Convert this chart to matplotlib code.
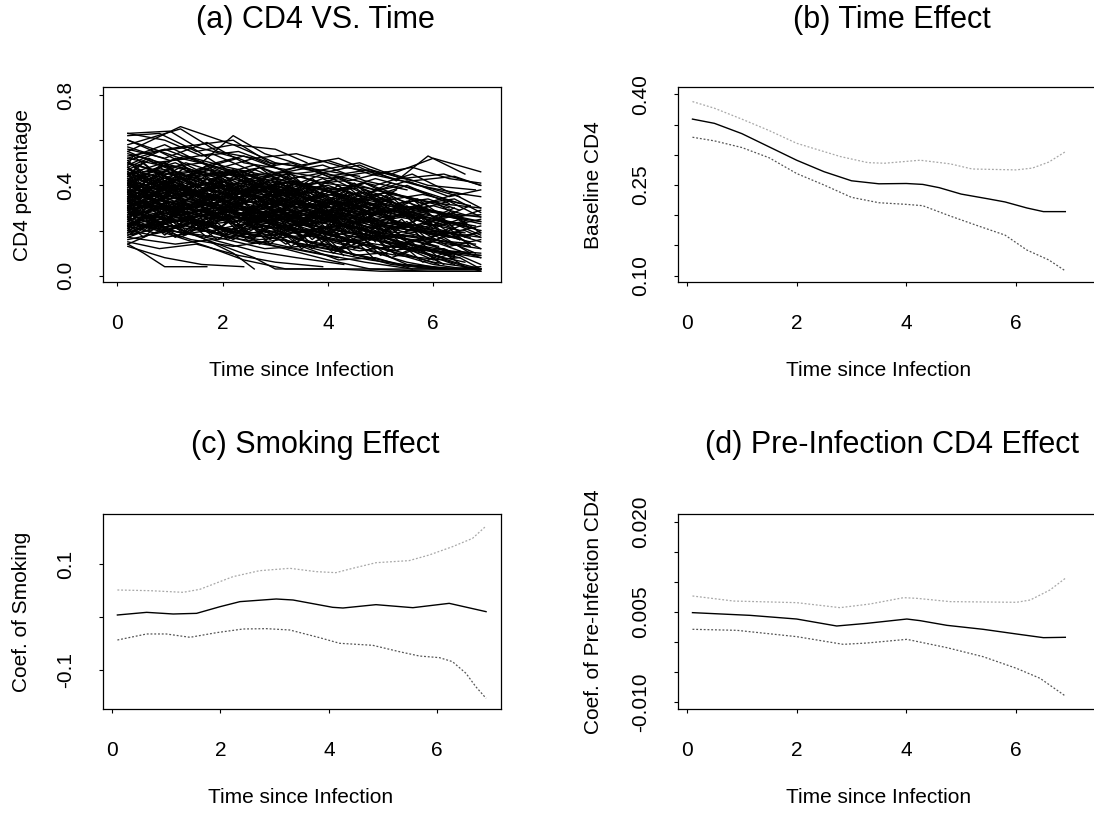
import numpy as np
import matplotlib
matplotlib.use("Agg")
import matplotlib.pyplot as plt

plt.rcParams['font.family'] = ['Liberation Sans', 'DejaVu Sans']

# (a) CD4 trajectories: one list of (time, cd4) visits per subject
subjects = [
    [(0.2,.62),(0.8,.63),(1.5,.55),(2.2,.58),(3.0,.50),(3.8,.47),(4.6,.44)],
    [(0.2,.58),(1.2,.65),(1.9,.55),(2.6,.52),(3.4,.54),(4.3,.48),(5.2,.45),(6.0,.52),(6.9,.46)],
    [(0.2,.55),(0.7,.50),(1.4,.52),(2.0,.47),(2.7,.43),(3.5,.40),(4.2,.38)],
    [(0.2,.52),(1.0,.48),(1.6,.50),(2.4,.44),(3.1,.46),(3.9,.41),(4.7,.39),(5.5,.35),(6.3,.30)],
    [(0.2,.50),(0.9,.45),(1.7,.47),(2.3,.41),(3.2,.38),(4.0,.33),(4.9,.30),(5.8,.26),(6.8,.22)],
    [(0.2,.48),(0.6,.52),(1.3,.44),(2.1,.46),(2.9,.40),(3.6,.37)],
    [(0.2,.47),(1.1,.42),(1.8,.45),(2.5,.38),(3.3,.36),(4.1,.32),(4.8,.28),(5.6,.25)],
    [(0.2,.46),(0.8,.40),(1.5,.43),(2.2,.37),(3.0,.39),(3.7,.33),(4.5,.31),(5.3,.24),(6.2,.20),(6.9,.15)],
    [(0.2,.45),(0.9,.47),(1.6,.39),(2.4,.41),(3.1,.34),(3.9,.30)],
    [(0.2,.44),(1.0,.38),(1.9,.41),(2.7,.35),(3.5,.31),(4.4,.27),(5.2,.22),(6.0,.18),(6.8,.10)],
    [(0.2,.43),(0.7,.46),(1.4,.40),(2.0,.36),(2.8,.38),(3.6,.32),(4.3,.29),(5.0,.27)],
    [(0.2,.42),(1.2,.36),(2.0,.39),(2.9,.33),(3.7,.29),(4.6,.25),(5.5,.19),(6.4,.14)],
    [(0.2,.41),(0.6,.44),(1.3,.37),(2.1,.40),(2.9,.35),(3.8,.37),(4.6,.33),(5.4,.30),(6.3,.27),(6.9,.24)],
    [(0.2,.40),(0.9,.35),(1.8,.38),(2.6,.32),(3.4,.28),(4.2,.25)],
    [(0.2,.39),(1.0,.42),(1.7,.36),(2.5,.30),(3.2,.33),(4.1,.28),(4.9,.24),(5.8,.21),(6.7,.17)],
    [(0.2,.38),(0.8,.33),(1.5,.36),(2.3,.31),(3.0,.27),(3.8,.30),(4.7,.24),(5.6,.20)],
    [(0.2,.37),(1.1,.40),(1.9,.34),(2.8,.36),(3.6,.31),(4.5,.33),(5.3,.29),(6.1,.26),(6.9,.27)],
    [(0.2,.36),(0.7,.31),(1.4,.34),(2.2,.28),(3.1,.25),(3.9,.20),(4.8,.16),(5.7,.12),(6.5,.08)],
    [(0.2,.35),(1.0,.37),(1.8,.31),(2.7,.33),(3.5,.27),(4.3,.24),(5.1,.20)],
    [(0.2,.34),(0.9,.30),(1.6,.32),(2.4,.27),(3.3,.29),(4.2,.23),(5.0,.19),(5.9,.16),(6.8,.14)],
    [(0.2,.33),(0.6,.36),(1.3,.30),(2.0,.33),(2.8,.28),(3.7,.24),(4.5,.21)],
    [(0.2,.32),(1.2,.28),(2.1,.31),(3.0,.26),(3.8,.22),(4.7,.18),(5.5,.13),(6.4,.06),(6.9,.03)],
    [(0.2,.31),(0.8,.34),(1.5,.29),(2.3,.31),(3.2,.25),(4.0,.27),(4.9,.22),(5.7,.20),(6.6,.19)],
    [(0.2,.30),(1.0,.26),(1.7,.29),(2.6,.24),(3.4,.21),(4.3,.17)],
    [(0.2,.29),(0.7,.32),(1.5,.27),(2.2,.24),(3.0,.27),(3.9,.21),(4.8,.18),(5.6,.14),(6.5,.10),(6.9,.09)],
    [(0.2,.28),(1.1,.25),(1.9,.28),(2.8,.22),(3.6,.19),(4.4,.15),(5.3,.11),(6.1,.05)],
    [(0.2,.27),(0.9,.30),(1.6,.25),(2.5,.27),(3.3,.22),(4.1,.24),(5.0,.19)],
    [(0.2,.26),(0.6,.22),(1.4,.25),(2.1,.20),(2.9,.17),(3.7,.13),(4.6,.09),(5.4,.05),(6.2,.03),(6.9,.03)],
    [(0.2,.25),(1.0,.28),(1.8,.23),(2.6,.25),(3.5,.20),(4.3,.22),(5.2,.17),(6.0,.15),(6.9,.12)],
    [(0.2,.24),(0.8,.21),(1.5,.24),(2.3,.19),(3.1,.16),(4.0,.12),(4.8,.08)],
    [(0.2,.23),(1.2,.26),(2.0,.21),(2.9,.18),(3.7,.20),(4.6,.15),(5.5,.12),(6.4,.10)],
    [(0.2,.22),(0.7,.19),(1.3,.22),(2.1,.17),(3.0,.14),(3.8,.10),(4.7,.06),(5.6,.03)],
    [(0.2,.21),(1.0,.24),(1.9,.19),(2.7,.16),(3.6,.18),(4.4,.13),(5.3,.09),(6.2,.07),(6.9,.02)],
    [(0.2,.20),(0.9,.17),(1.7,.20),(2.5,.15),(3.3,.12),(4.2,.08)],
    [(0.2,.19),(0.6,.22),(1.4,.16),(2.2,.13),(3.1,.16),(3.9,.11),(4.8,.07),(5.7,.04),(6.6,.03)],
    [(0.2,.17),(1.1,.14),(1.8,.16),(2.6,.11),(3.4,.08),(4.3,.05)],
    [(0.2,.15),(0.8,.12),(1.5,.14),(2.3,.09),(3.0,.06),(3.9,.04)],
    [(0.2,.13),(0.9,.08),(1.6,.05),(2.4,.04)],
    [(0.2,.14),(0.5,.10),(0.9,.04),(1.7,.04)],
    [(0.2,.56),(0.9,.52),(1.7,.59),(2.4,.50),(3.2,.47),(4.0,.51),(4.8,.45),(5.6,.41),(6.5,.35)],
    [(0.2,.53),(1.2,.57),(2.2,.60),(2.9,.50),(3.6,.48),(4.4,.42),(5.1,.46),(5.9,.40),(6.8,.38)],
    [(0.2,.49),(0.8,.55),(1.5,.47),(2.3,.52),(3.0,.45),(3.9,.49),(4.7,.42),(5.5,.38)],
    [(0.2,.45),(1.3,.53),(2.1,.48),(2.9,.44),(3.7,.46),(4.6,.50),(5.4,.43),(6.2,.45),(6.9,.40)],
    [(0.2,.41),(0.9,.49),(1.8,.44),(2.6,.47),(3.4,.40),(4.3,.42),(5.2,.36),(6.1,.32),(6.9,.30)],
    [(0.2,.37),(1.1,.45),(1.9,.42),(2.7,.38),(3.5,.41),(4.4,.35),(5.3,.31),(6.2,.28)],
    [(0.2,.33),(0.7,.40),(1.6,.37),(2.4,.42),(3.2,.36),(4.1,.39),(5.0,.33),(5.8,.36),(6.7,.31)],
    [(0.2,.29),(1.0,.35),(1.8,.32),(2.6,.36),(3.4,.30),(4.2,.33),(5.1,.28),(5.9,.25),(6.8,.21)],
    [(0.2,.26),(0.9,.31),(1.7,.28),(2.5,.33),(3.3,.27),(4.1,.29),(4.9,.24),(5.7,.27),(6.6,.22)],
    [(0.2,.23),(1.1,.29),(2.0,.26),(2.8,.30),(3.6,.25),(4.5,.27),(5.4,.22),(6.3,.18)],
    [(0.2,.20),(0.8,.25),(1.6,.23),(2.4,.27),(3.2,.22),(4.0,.24),(4.9,.19),(5.8,.17),(6.7,.13)],
    [(0.2,.18),(1.0,.22),(1.9,.19),(2.7,.23),(3.5,.18),(4.4,.15),(5.2,.18),(6.1,.13)],
    [(0.2,.36),(0.5,.30),(1.1,.33),(1.7,.28),(2.3,.31),(2.9,.26),(3.5,.29),(4.1,.24),(4.7,.21),(5.3,.24),(5.9,.19),(6.5,.17)],
    [(0.2,.39),(0.5,.44),(1.1,.38),(1.7,.41),(2.3,.36),(2.9,.39),(3.5,.34),(4.1,.36),(4.7,.31),(5.3,.27),(5.9,.29),(6.5,.25)],
    [(0.2,.42),(0.5,.37),(1.1,.40),(1.7,.35),(2.3,.38),(2.9,.32),(3.5,.35),(4.1,.30),(4.7,.27),(5.3,.29),(5.9,.23),(6.5,.20),(6.9,.22)],
    [(0.2,.32),(0.5,.35),(1.1,.29),(1.7,.32),(2.3,.27),(2.9,.30),(3.5,.25),(4.1,.27),(4.7,.22),(5.3,.19),(5.9,.21),(6.5,.16)],
    [(0.2,.28),(0.5,.24),(1.1,.28),(1.7,.23),(2.3,.26),(2.9,.21),(3.5,.23),(4.1,.18),(4.7,.20),(5.3,.15),(5.9,.12),(6.5,.09)],
    [(0.2,.46),(0.5,.42),(1.1,.46),(1.7,.40),(2.3,.43),(2.9,.37),(3.5,.40),(4.1,.34),(4.7,.37),(5.3,.32),(5.9,.34),(6.5,.29)],
    [(0.2,.50),(0.5,.46),(1.1,.50),(1.7,.44),(2.3,.47),(2.9,.41),(3.5,.44),(4.1,.38),(4.7,.41),(5.3,.36),(5.9,.31)],
    [(0.2,.24),(0.5,.28),(1.1,.24),(1.7,.27),(2.3,.22),(2.9,.25),(3.5,.20),(4.1,.22),(4.7,.17),(5.3,.14),(5.9,.16),(6.5,.11),(6.9,.08)],
    [(0.2,.35),(0.4,.40),(1.0,.34),(1.6,.37),(2.2,.32),(2.8,.35),(3.4,.30),(4.0,.32),(4.6,.27),(5.2,.29),(5.8,.24)],
    [(0.2,.31),(0.4,.27),(1.0,.31),(1.6,.26),(2.2,.29),(2.8,.24),(3.4,.27),(4.0,.21),(4.6,.24),(5.2,.19)],
    [(0.2,.44),(0.4,.49),(1.0,.43),(1.6,.46),(2.2,.40),(2.8,.43),(3.4,.38),(4.0,.40),(4.6,.35),(5.2,.37),(5.8,.32),(6.4,.34),(6.9,.28)],
    [(0.2,.27),(0.4,.31),(1.0,.26),(1.6,.29),(2.2,.24),(2.8,.27),(3.4,.22),(4.0,.25),(4.6,.19),(5.2,.16),(5.8,.10),(6.4,.05)],
    [(0.2,.38),(0.4,.34),(1.0,.39),(1.6,.33),(2.2,.36),(2.8,.30),(3.4,.33),(4.0,.28),(4.6,.31),(5.2,.26),(5.8,.28),(6.4,.23),(6.9,.20)],
    [(0.2,.48),(0.4,.43),(1.0,.47),(1.6,.42),(2.2,.45),(2.8,.39),(3.4,.42),(4.0,.37),(4.6,.39),(5.2,.34)],
    [(0.2,.21),(0.4,.25),(1.0,.21),(1.6,.24),(2.2,.19),(2.8,.22),(3.4,.17),(4.0,.19),(4.6,.14),(5.2,.11),(5.8,.13),(6.4,.08)],
    [(0.2,.34),(0.6,.37),(1.2,.32),(1.8,.35),(2.4,.30),(3.0,.32),(3.6,.27),(4.2,.30),(4.8,.25),(5.4,.27),(6.0,.22),(6.6,.24)],
    [(0.2,.40),(0.6,.36),(1.2,.40),(1.8,.34),(2.4,.37),(3.0,.31),(3.6,.34),(4.2,.29),(4.8,.32),(5.4,.26),(6.0,.29),(6.6,.25)],
    [(0.2,.30),(0.6,.34),(1.2,.29),(1.8,.32),(2.4,.27),(3.0,.29),(3.6,.24),(4.2,.26),(4.8,.21),(5.4,.23),(6.0,.18),(6.6,.20),(6.9,.17)],
    [(0.2,.25),(0.6,.21),(1.2,.25),(1.8,.20),(2.4,.23),(3.0,.18),(3.6,.20),(4.2,.15),(4.8,.17),(5.4,.12),(6.0,.09),(6.6,.06)],
    [(0.2,.43),(0.6,.39),(1.2,.43),(1.8,.37),(2.4,.40),(3.0,.35),(3.6,.37),(4.2,.32),(4.8,.34),(5.4,.29),(6.0,.31),(6.6,.27)],
    [(0.2,.36),(0.6,.41),(1.2,.35),(1.8,.38),(2.4,.33),(3.0,.36),(3.6,.30),(4.2,.33),(4.8,.28),(5.4,.30),(6.0,.25),(6.6,.22)],
    [(0.2,.47),(0.6,.51),(1.2,.45),(1.8,.48),(2.4,.42),(3.0,.45),(3.6,.40),(4.2,.43),(4.8,.37),(5.4,.40),(6.0,.35)],
    [(0.2,.19),(0.6,.23),(1.2,.19),(1.8,.22),(2.4,.17),(3.0,.20),(3.6,.15),(4.2,.12),(4.8,.14),(5.4,.09),(6.0,.05),(6.6,.03)],
    [(0.2,.60),(0.7,.55),(1.4,.57),(2.0,.48),(2.6,.52),(3.3,.45)],
    [(0.2,.57),(1.0,.51),(1.8,.54),(2.5,.47),(3.3,.50),(4.0,.44),(4.8,.47),(5.6,.42),(6.4,.44),(6.9,.40)],
    [(0.2,.51),(0.9,.56),(1.7,.49),(2.4,.53),(3.2,.46),(4.0,.43),(4.8,.46),(5.7,.40),(6.6,.36)],
    [(0.3,.39),(0.9,.42),(1.5,.37),(2.1,.40),(2.7,.34),(3.3,.37),(3.9,.32),(4.5,.34),(5.1,.29),(5.7,.31),(6.3,.26),(6.9,.23)],
    [(0.3,.33),(0.9,.29),(1.5,.33),(2.1,.28),(2.7,.31),(3.3,.26),(3.9,.28),(4.5,.23),(5.1,.25),(5.7,.20),(6.3,.17),(6.9,.19)],
    [(0.3,.27),(0.9,.31),(1.5,.26),(2.1,.29),(2.7,.24),(3.3,.26),(3.9,.21),(4.5,.24),(5.1,.18),(5.7,.15),(6.3,.11),(6.9,.10)],
    [(0.2,.29),(1.0,.22),(1.8,.15),(2.6,.08),(3.0,.03),(4.2,.03),(5.0,.02),(6.0,.02),(6.9,.02)],
    [(0.2,.24),(0.9,.19),(1.7,.13),(2.4,.07),(3.2,.03),(4.5,.03),(5.5,.03),(6.9,.03)],
    [(0.2,.33),(1.0,.27),(2.0,.20),(3.0,.13),(4.0,.07),(4.8,.03),(5.9,.02),(6.9,.02)],
    [(0.2,.38),(1.1,.31),(2.2,.25),(3.3,.17),(4.4,.10),(5.2,.05),(6.0,.03),(6.9,.03)],
    [(0.2,.30),(0.8,.24),(1.5,.18),(2.2,.10),(2.6,.03)],
    [(0.2,.41),(1.2,.34),(2.3,.27),(3.4,.20),(4.5,.13),(5.5,.06),(6.2,.03),(6.9,.04)],
    [(0.2,.45),(1.0,.40),(2.0,.32),(3.0,.25),(4.0,.18),(5.0,.12),(6.0,.06),(6.9,.03)],
    [(0.2,.50),(1.3,.43),(2.5,.36),(3.6,.28),(4.7,.20),(5.8,.12),(6.9,.08)],
    [(0.2,.54),(1.0,.49),(2.0,.44),(3.0,.38),(4.0,.32),(5.0,.26),(6.0,.20),(6.9,.17)],
    [(0.2,.60),(1.2,.52),(2.3,.46),(3.4,.41),(4.5,.34),(5.6,.27),(6.5,.20)],
    [(0.2,.63),(0.9,.60),(1.6,.53),(2.3,.55),(3.0,.49)],
    [(0.2,.52),(0.9,.58),(1.6,.50),(2.2,.62),(2.8,.54),(3.5,.49),(4.2,.52),(4.9,.45),(5.6,.48),(6.3,.43),(6.9,.41)],
    [(0.2,.39),(0.8,.45),(1.3,.50),(2.0,.45),(2.6,.49),(3.3,.43),(4.0,.46),(4.6,.49),(5.3,.42),(5.9,.53),(6.6,.45)],
    [(0.2,.35),(1.0,.42),(1.8,.47),(2.6,.42),(3.4,.48),(4.2,.44),(4.9,.40),(5.6,.45),(6.3,.37),(6.9,.35)],
    [(0.2,.31),(0.9,.37),(1.7,.41),(2.5,.38),(3.3,.42),(4.1,.37),(4.9,.43),(5.7,.38),(6.5,.32)],
    [(0.2,.22),(0.8,.28),(1.6,.33),(2.4,.29),(3.2,.34),(4.0,.30),(4.8,.35),(5.6,.30),(6.4,.36),(6.9,.30)],
    [(0.2,.17),(0.9,.23),(1.8,.28),(2.7,.24),(3.6,.29),(4.5,.25),(5.4,.21),(6.3,.26),(6.9,.24)],
    [(0.2,.14),(0.7,.19),(1.5,.24),(2.3,.20),(3.1,.25),(4.0,.21),(4.9,.16),(5.8,.20),(6.7,.15)],
    [(0.2,.16),(1.0,.20),(1.9,.16),(2.8,.20),(3.7,.15),(4.6,.11),(5.5,.14),(6.4,.09)],
    [(0.2,.26),(0.7,.33),(1.4,.38),(2.2,.34),(3.0,.40),(3.7,.35),(4.5,.30),(5.3,.34),(6.1,.28),(6.9,.26)],
    [(0.2,.34),(0.8,.43),(1.5,.35),(2.3,.45),(3.1,.36),(3.9,.43),(4.7,.34),(5.5,.40),(6.3,.32)],
    [(0.2,.43),(0.8,.34),(1.5,.42),(2.3,.33),(3.1,.41),(3.9,.31),(4.7,.38),(5.5,.28),(6.3,.33),(6.9,.26)],
    [(0.2,.29),(0.8,.38),(1.5,.30),(2.3,.39),(3.1,.29),(3.9,.36),(4.7,.27),(5.5,.33),(6.3,.22),(6.9,.25)],
    [(0.2,.37),(0.8,.28),(1.5,.36),(2.3,.27),(3.1,.34),(3.9,.25),(4.7,.31),(5.5,.20),(6.3,.24),(6.9,.18)],
    [(0.2,.48),(0.8,.39),(1.5,.46),(2.3,.37),(3.1,.44),(3.9,.35),(4.7,.41),(5.5,.32)],
    [(0.2,.22),(0.8,.31),(1.5,.23),(2.3,.31),(3.1,.21),(3.9,.28),(4.7,.18),(5.5,.23),(6.3,.13),(6.9,.16)],
    [(0.2,.40),(0.8,.48),(1.5,.39),(2.3,.47),(3.1,.38),(3.9,.45),(4.7,.36),(5.5,.42),(6.3,.35),(6.9,.38)],
    [(0.2,.31),(0.8,.23),(1.5,.32),(2.3,.22),(3.1,.29),(3.9,.19),(4.7,.25),(5.5,.15),(6.3,.19),(6.9,.12)],
    [(0.2,.55),(1.2,.66),(2.2,.58),(3.0,.56),(3.6,.50)],
    [(0.2,.63),(1.0,.64),(1.5,.57),(2.3,.52)],
    # frequently measured subjects (dense core of the cloud)
    [(0.2,.30),(0.5,.38),(0.9,.29),(1.3,.37),(1.7,.28),(2.1,.36),(2.5,.27),(2.9,.34),(3.3,.25),(3.7,.32),(4.1,.23)],
    [(0.2,.40),(0.5,.32),(0.9,.41),(1.3,.33),(1.7,.40),(2.1,.31),(2.5,.38),(2.9,.30),(3.3,.36),(3.7,.28),(4.1,.34),(4.5,.26)],
    [(0.2,.25),(0.5,.33),(0.9,.24),(1.3,.32),(1.7,.23),(2.1,.31),(2.5,.22),(2.9,.29),(3.3,.20),(3.7,.27),(4.1,.18),(4.5,.24),(4.9,.15)],
    [(0.2,.45),(0.5,.36),(0.9,.44),(1.3,.35),(1.7,.43),(2.1,.34),(2.5,.42),(2.9,.33),(3.3,.40),(3.7,.31)],
    [(0.2,.35),(0.4,.27),(0.8,.36),(1.2,.26),(1.6,.35),(2.0,.25),(2.4,.33),(2.8,.24),(3.2,.31),(3.6,.22),(4.0,.29),(4.4,.20),(4.8,.26)],
    [(0.2,.20),(0.4,.29),(0.8,.21),(1.2,.30),(1.6,.20),(2.0,.28),(2.4,.19),(2.8,.26),(3.2,.17),(3.6,.24),(4.0,.15)],
    [(0.2,.42),(0.4,.47),(0.8,.38),(1.2,.46),(1.6,.37),(2.0,.45),(2.4,.36),(2.8,.43),(3.2,.35),(3.6,.41),(4.0,.33),(4.4,.39),(4.8,.31),(5.2,.36)],
    [(0.2,.33),(0.6,.24),(1.0,.33),(1.4,.24),(1.8,.32),(2.2,.23),(2.6,.30),(3.0,.21),(3.4,.28),(3.8,.19),(4.2,.26),(4.6,.17),(5.0,.23),(5.4,.14)],
    [(0.2,.28),(0.6,.36),(1.0,.27),(1.4,.35),(1.8,.26),(2.2,.34),(2.6,.25),(3.0,.32),(3.4,.23),(3.8,.30),(4.2,.21),(4.6,.28),(5.0,.19),(5.4,.25),(5.8,.16)],
    [(0.2,.38),(0.6,.30),(1.0,.38),(1.4,.29),(1.8,.37),(2.2,.28),(2.6,.36),(3.0,.27),(3.4,.34),(3.8,.25),(4.2,.32),(4.6,.23),(5.0,.29),(5.4,.21),(5.8,.26),(6.2,.18)],
    [(0.2,.23),(0.5,.17),(0.9,.25),(1.3,.18),(1.7,.24),(2.1,.16),(2.5,.23),(2.9,.14),(3.3,.21),(3.7,.12),(4.1,.18),(4.5,.09)],
    [(0.2,.48),(0.6,.41),(1.0,.48),(1.4,.40),(1.8,.46),(2.2,.38),(2.6,.44),(3.0,.36),(3.4,.42),(3.8,.34),(4.2,.40),(4.6,.32)],
    [(0.2,.36),(0.3,.44),(0.7,.35),(1.1,.43),(1.5,.34),(1.9,.42),(2.3,.33),(2.7,.40),(3.1,.31),(3.5,.38),(3.9,.29),(4.3,.36),(4.7,.27)],
    [(0.2,.31),(0.3,.22),(0.7,.31),(1.1,.21),(1.5,.30),(1.9,.20),(2.3,.28),(2.7,.19),(3.1,.27),(3.5,.17),(3.9,.25),(4.3,.15),(4.7,.22),(5.1,.12)],
    [(0.2,.27),(0.7,.34),(1.1,.26),(1.5,.33),(1.9,.25),(2.3,.32),(2.7,.24),(3.1,.30),(3.5,.22),(3.9,.28),(4.3,.20),(4.7,.26),(5.1,.17),(5.5,.23),(5.9,.14),(6.3,.19)],
    [(0.2,.43),(0.7,.36),(1.1,.44),(1.5,.35),(1.9,.43),(2.3,.34),(2.7,.41),(3.1,.32),(3.5,.39),(3.9,.30),(4.3,.37),(4.7,.28),(5.1,.34),(5.5,.26)],
    [(0.2,.19),(0.5,.26),(0.9,.18),(1.3,.25),(1.7,.17),(2.1,.24),(2.5,.15),(2.9,.22),(3.3,.13),(3.7,.19),(4.1,.10),(4.5,.16),(4.9,.07)],
    [(0.2,.51),(0.5,.44),(0.9,.50),(1.3,.42),(1.7,.49),(2.1,.41),(2.5,.47),(2.9,.39),(3.3,.45),(3.7,.37)],
    [(0.2,.34),(0.5,.41),(0.9,.32),(1.3,.40),(1.7,.31),(2.1,.39),(2.5,.30),(2.9,.37),(3.3,.28),(3.7,.35),(4.1,.27),(4.5,.33),(4.9,.24),(5.3,.30),(5.7,.22),(6.1,.27),(6.5,.19)],
    [(0.2,.29),(0.5,.21),(0.9,.29),(1.3,.20),(1.7,.28),(2.1,.19),(2.5,.27),(2.9,.18),(3.3,.25),(3.7,.16),(4.1,.23),(4.5,.14),(4.9,.20),(5.3,.11),(5.7,.16),(6.1,.08),(6.5,.11)],
    [(0.2,.39),(0.4,.45),(0.8,.37),(1.2,.44),(1.6,.36),(2.0,.43),(2.4,.35),(2.8,.41),(3.2,.33),(3.6,.40),(4.0,.31),(4.4,.37),(4.8,.29),(5.2,.35),(5.6,.27)],
    [(0.2,.24),(0.4,.31),(0.8,.23),(1.2,.30),(1.6,.22),(2.0,.29),(2.4,.21),(2.8,.28),(3.2,.20),(3.6,.26),(4.0,.18),(4.4,.24),(4.8,.16),(5.2,.21),(5.6,.13)],
    [(0.2,.46),(0.4,.39),(0.8,.46),(1.2,.38),(1.6,.45),(2.0,.37),(2.4,.43),(2.8,.35),(3.2,.41),(3.6,.33),(4.0,.39),(4.4,.31),(4.8,.36),(5.2,.29),(5.6,.34),(6.0,.26),(6.4,.30)],
    [(0.2,.32),(0.6,.39),(1.0,.31),(1.4,.38),(1.8,.30),(2.2,.37),(2.6,.29),(3.0,.35),(3.4,.27),(3.8,.33),(4.2,.25),(4.6,.31),(5.0,.22),(5.4,.28),(5.8,.20),(6.2,.25),(6.6,.17),(6.9,.20)],
    [(0.2,.21),(0.6,.27),(1.0,.20),(1.4,.26),(1.8,.19),(2.2,.25),(2.6,.17),(3.0,.23),(3.4,.15),(3.8,.21),(4.2,.12),(4.6,.18),(5.0,.09),(5.4,.14),(5.8,.06),(6.2,.10),(6.6,.04)],
    [(0.2,.37),(0.6,.31),(1.0,.37),(1.4,.30),(1.8,.36),(2.2,.29),(2.6,.35),(3.0,.28),(3.4,.33),(3.8,.26),(4.2,.31),(4.6,.24),(5.0,.29),(5.4,.22),(5.8,.26),(6.2,.19),(6.6,.23)],
    [(0.2,.44),(0.5,.50),(0.9,.42),(1.3,.48),(1.7,.40),(2.1,.47),(2.5,.39),(2.9,.45),(3.3,.37),(3.7,.43),(4.1,.36),(4.5,.41),(4.9,.33),(5.3,.38)],
    [(0.2,.26),(0.5,.20),(0.9,.27),(1.3,.19),(1.7,.26),(2.1,.18),(2.5,.24),(2.9,.16),(3.3,.22),(3.7,.14),(4.1,.20),(4.5,.12),(4.9,.17),(5.3,.09),(5.7,.13),(6.1,.06)],
    [(0.2,.41),(0.3,.35),(0.7,.42),(1.1,.34),(1.5,.41),(1.9,.33),(2.3,.40),(2.7,.32),(3.1,.38),(3.5,.30),(3.9,.36),(4.3,.28),(4.7,.34),(5.1,.26),(5.5,.31),(5.9,.23),(6.3,.28),(6.7,.21)],
    [(0.2,.33),(0.3,.28),(0.7,.34),(1.1,.27),(1.5,.33),(1.9,.26),(2.3,.32),(2.7,.25),(3.1,.30),(3.5,.23),(3.9,.29),(4.3,.21),(4.7,.27),(5.1,.19),(5.5,.24),(5.9,.16),(6.3,.21),(6.7,.13)],
    [(0.2,.49),(0.3,.53),(0.7,.46),(1.1,.52),(1.5,.44),(1.9,.50),(2.3,.43),(2.7,.48),(3.1,.41)],
    [(0.2,.22),(0.3,.18),(0.7,.24),(1.1,.17),(1.5,.23),(1.9,.16),(2.3,.22),(2.7,.14),(3.1,.20),(3.5,.12),(3.9,.17),(4.3,.09)],
    [(0.2,.37),(0.7,.44),(1.2,.36),(1.7,.43),(2.2,.35),(2.7,.41),(3.2,.33),(3.7,.39),(4.2,.31),(4.7,.37),(5.2,.29),(5.7,.34),(6.2,.26),(6.7,.31)],
    [(0.2,.28),(0.7,.22),(1.2,.29),(1.7,.21),(2.2,.28),(2.7,.20),(3.2,.26),(3.7,.18),(4.2,.24),(4.7,.16),(5.2,.21),(5.7,.13),(6.2,.17),(6.7,.10)],
    [(0.2,.40),(0.7,.34),(1.2,.41),(1.7,.33),(2.2,.39),(2.7,.31),(3.2,.38),(3.7,.30),(4.2,.36),(4.7,.28),(5.2,.33),(5.7,.25)],
    [(0.2,.18),(0.7,.24),(1.2,.17),(1.7,.23),(2.2,.16),(2.7,.22),(3.2,.14),(3.7,.19),(4.2,.11),(4.7,.16),(5.2,.08),(5.7,.12),(6.2,.05)],
    [(0.2,.47),(0.7,.42),(1.2,.48),(1.7,.41),(2.2,.47),(2.7,.40),(3.2,.45),(3.7,.38),(4.2,.44),(4.7,.36),(5.2,.41)],
    [(0.2,.30),(0.5,.35),(1.0,.29),(1.5,.36),(2.0,.30),(2.5,.35),(3.0,.28),(3.5,.33),(4.0,.26),(4.5,.31),(5.0,.24),(5.5,.28),(6.0,.21),(6.5,.25),(6.9,.19)],
    [(0.2,.35),(0.5,.29),(1.0,.36),(1.5,.28),(2.0,.34),(2.5,.27),(3.0,.33),(3.5,.25),(4.0,.31),(4.5,.23),(5.0,.28),(5.5,.20),(6.0,.24),(6.5,.16)],
    [(0.2,.43),(0.5,.37),(1.0,.43),(1.5,.36),(2.0,.42),(2.5,.35),(3.0,.41),(3.5,.33),(4.0,.38),(4.5,.31),(5.0,.36),(5.5,.29),(6.0,.33),(6.5,.26),(6.9,.29)],
    [(0.2,.27),(1.0,.25),(2.0,.21),(2.5,.17),(3.0,.18),(3.5,.13),(4.0,.14),(4.5,.09),(5.0,.10),(5.5,.05),(6.0,.04),(6.5,.03),(6.9,.03)],
    [(0.2,.32),(1.0,.30),(1.8,.25),(2.6,.26),(3.4,.19),(4.2,.20),(4.8,.12),(5.4,.13),(6.0,.07),(6.5,.08),(6.9,.03)],
    [(0.2,.36),(0.9,.33),(1.8,.29),(2.7,.30),(3.6,.22),(4.3,.17),(5.0,.18),(5.6,.11),(6.2,.12),(6.9,.05)],
    [(0.2,.23),(1.0,.20),(1.9,.17),(2.8,.12),(3.5,.13),(4.2,.07),(4.9,.08),(5.6,.03),(6.3,.03)],
    [(0.2,.40),(1.2,.37),(2.2,.33),(3.0,.29),(3.8,.24),(4.4,.25),(5.0,.17),(5.6,.18),(6.2,.11),(6.9,.09)],
]

# (b) time effect: baseline CD4 with pointwise band
t_b = [0.1, 0.5, 1.0, 1.5, 2.0, 2.5, 3.0, 3.5, 4.0, 4.3, 4.6, 5.0, 5.5, 5.8, 6.2, 6.5, 6.9]
base_b = [0.359, 0.352, 0.335, 0.313, 0.291, 0.272, 0.257, 0.252, 0.2525, 0.251, 0.2456, 0.235, 0.227, 0.222, 0.212, 0.206, 0.206]
t_bu = [0.1, 0.5, 1.0, 1.5, 2.0, 2.8, 3.3, 3.6, 4.25, 4.8, 5.2, 6.0, 6.3, 6.6, 6.9]
up_b = [0.388, 0.377, 0.359, 0.340, 0.319, 0.297, 0.287, 0.286, 0.291, 0.285, 0.2765, 0.275, 0.278, 0.288, 0.305]
t_bl = [0.1, 0.5, 1.0, 1.5, 2.0, 2.5, 3.0, 3.5, 4.0, 4.3, 4.8, 5.3, 5.8, 6.2, 6.6, 6.9]
lo_b = [0.329, 0.323, 0.312, 0.295, 0.269, 0.250, 0.2296, 0.2207, 0.218, 0.2158, 0.1987, 0.1827, 0.1672, 0.1424, 0.126, 0.108]

# (c) smoking coefficient
t_c = [0.1, 0.64, 1.13, 1.56, 1.99, 2.36, 3.03, 3.34, 4.07, 4.26, 4.87, 5.55, 6.22, 6.9]
coef_c = [0.0044, 0.0094, 0.0063, 0.0075, 0.020, 0.0296, 0.0346, 0.0327, 0.0189, 0.0176, 0.0239, 0.0182, 0.0264, 0.0107]
t_cu = [0.1, 0.7, 1.31, 1.62, 2.23, 2.72, 3.28, 3.77, 4.13, 4.44, 4.87, 5.48, 5.85, 6.28, 6.65, 6.9]
up_c = [0.0516, 0.0503, 0.0472, 0.0528, 0.0767, 0.088, 0.0925, 0.0862, 0.0843, 0.0925, 0.1031, 0.107, 0.1176, 0.1333, 0.149, 0.1723]
t_cl = [0.1, 0.64, 1.0, 1.44, 1.93, 2.42, 2.85, 3.28, 3.83, 4.2, 4.81, 5.3, 5.67, 6.04, 6.28, 6.53, 6.71, 6.9]
lo_c = [-0.0428, -0.0314, -0.0314, -0.0377, -0.0289, -0.022, -0.0214, -0.0239, -0.0384, -0.049, -0.0528, -0.0648, -0.073, -0.0761, -0.0836, -0.1057, -0.1308, -0.1528]

# (d) pre-infection CD4 coefficient
t_d = [0.1, 1.15, 2.0, 2.73, 3.28, 4.01, 4.25, 4.74, 5.4, 6.01, 6.5, 6.9]
coef_d = [0.00487, 0.00442, 0.00381, 0.00265, 0.00309, 0.00381, 0.00354, 0.00276, 0.0021, 0.00132, 0.00071, 0.00077]
t_du = [0.1, 0.85, 2.0, 2.79, 3.34, 3.95, 4.19, 4.8, 6.01, 6.26, 6.62, 6.9]
up_d = [0.00764, 0.0068, 0.00653, 0.0057, 0.00631, 0.00736, 0.00725, 0.0067, 0.00659, 0.00697, 0.00864, 0.01058]
t_dl = [0.1, 0.91, 2.0, 2.85, 3.28, 4.01, 4.74, 5.4, 6.01, 6.44, 6.9]
lo_d = [0.0021, 0.00193, 0.00088, -0.0004, -0.00018, 0.00043, -0.00095, -0.00245, -0.00439, -0.00605, -0.00899]

W, H = 1094, 813
fig = plt.figure(figsize=(W / 100, H / 100), dpi=100)


def px_axes(x0, x1, y0, y1):
    return fig.add_axes([x0 / W, 1 - y1 / H, (x1 - x0) / W, (y1 - y0) / H])


def style(ax, yticks, ylabels):
    ax.set_xticks([0, 2, 4, 6])
    ax.set_xticklabels(['0', '2', '4', '6'])
    ax.set_yticks(yticks)
    ax.set_yticklabels(ylabels, rotation=90, va='center')
    ax.tick_params(direction='out', length=3.1, width=0.8, labelsize=15, colors='black')
    ax.tick_params(axis='x', pad=20)
    ax.tick_params(axis='y', pad=17)
    for s in ax.spines.values():
        s.set_linewidth(0.9)


def band(ax, t, m, tu, u, tl, l):
    ax.plot(tu, u, color='#a8a8a8', lw=0.9, ls=(0, (1.5, 1.5)))
    ax.plot(tl, l, color='#555555', lw=0.9, ls=(0, (1.5, 1.5)))
    ax.plot(t, m, color='black', lw=1.0)


# (a)
ax = px_axes(103.3, 500.7, 87.3, 282.3)
for s in subjects:
    tt = [p[0] for p in s]
    yy = [p[1] for p in s]
    ax.plot(tt, yy, color='black', lw=1.0)
ax.set_xlim(-0.266, 7.28)
ax.set_ylim(-0.029, 0.834)
style(ax, [0, 0.2, 0.4, 0.6, 0.8], ['0.0', '', '0.4', '', '0.8'])

# (b)
ax = px_axes(678, 1106, 87.3, 282.3)
band(ax, t_b, base_b, t_bu, up_b, t_bl, lo_b)
ax.set_xlim(-0.164, (1106 - 687) / 54.83)
ax.set_ylim(0.0891, 0.4116)
style(ax, [0.10, 0.15, 0.20, 0.25, 0.30, 0.35, 0.40], ['0.10', '', '', '0.25', '', '', '0.40'])

# (c)
ax = px_axes(103.3, 500.7, 514, 709)
band(ax, t_c, coef_c, t_cu, up_c, t_cl, lo_c)
ax.set_xlim(-0.16, 7.17)
ax.set_ylim(-0.173, 0.195)
style(ax, [-0.1, 0.0, 0.1], ['-0.1', '', '0.1'])

# (d)
ax = px_axes(678, 1106, 514, 709)
band(ax, t_d, coef_d, t_du, up_d, t_dl, lo_d)
ax.set_xlim(-0.164, (1106 - 687) / 54.83)
ax.set_ylim(-0.01115, 0.02127)
style(ax, [-0.010, -0.005, 0.0, 0.005, 0.010, 0.015, 0.020],
      ['-0.010', '', '', '0.005', '', '', '0.020'])

# titles and axis labels placed like the R layout
titles = ['(a) CD4 VS. Time', '(b) Time Effect', '(c) Smoking Effect', '(d) Pre-Infection CD4 Effect']
title_xy = [(315, 20), (892, 20), (315, 445), (892, 445)]
for txt, (x, y) in zip(titles, title_xy):
    fig.text(x / W, 1 - y / H, txt, ha='center', va='center', fontsize=22)

ylabels = ['CD4 percentage', 'Baseline CD4', 'Coef. of Smoking', 'Coef. of Pre-Infection CD4']
ylab_xy = [(22.5, 184.8), (593.5, 184.8), (22, 611.5), (593.5, 611.5)]
for txt, (x, y) in zip(ylabels, ylab_xy):
    fig.text(x / W, 1 - y / H, txt, ha='center', va='center', rotation=90, fontsize=15)

for x, y in [(302, 370), (878.5, 370), (301, 797), (878.5, 797)]:
    fig.text(x / W, 1 - y / H, 'Time since Infection', ha='center', va='center', fontsize=15)

fig.savefig('out.png', dpi=100)
